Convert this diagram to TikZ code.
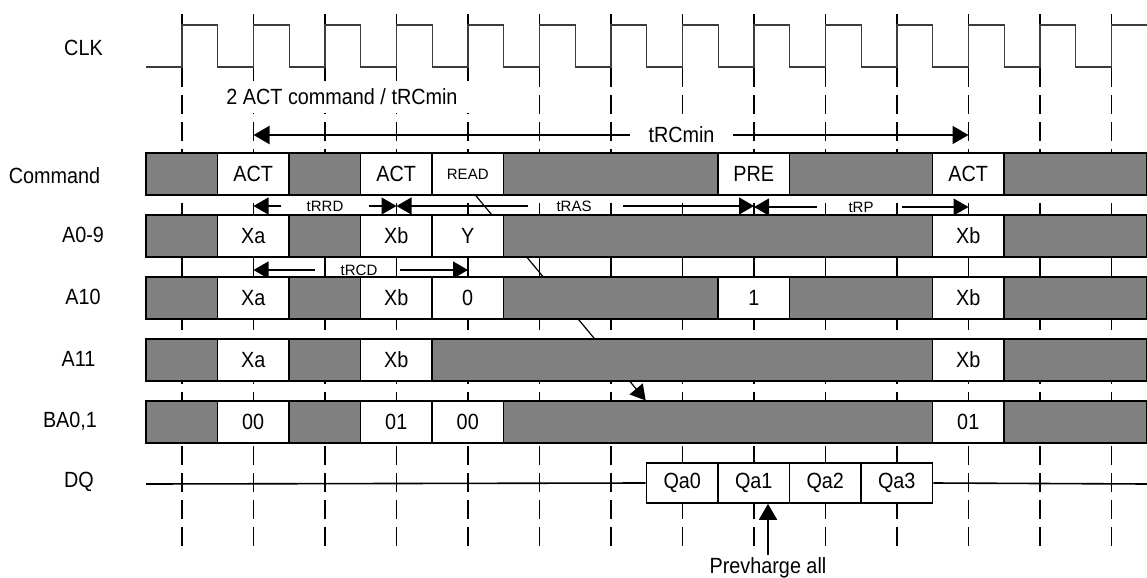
\documentclass[tikz,border=0pt]{standalone}
\usepackage{fontspec}
\setmainfont[FakeStretch=0.9]{Liberation Sans}
\newfontfamily\TimFam{Liberation Sans}
\usepackage{tikz}
\usetikzlibrary{arrows.meta}
\usetikzlibrary{backgrounds}
\usepackage{xcolor}
\definecolor{ColFill}{RGB}{128,128,128}
\definecolor{ColClk}{RGB}{60,60,60}
\newcommand{\MainTxt}{\fontsize{11pt}{13pt}\selectfont}
\newcommand{\SmallTim}{\TimFam\fontsize{7.5pt}{9pt}\selectfont}
\tikzstyle{EdgeClk}=[black,line width=0.9pt,dash pattern=on 9.75pt off 3.75pt]
\tikzstyle{LineClk}=[ColClk,line width=0.6pt]
\tikzstyle{CellSig}=[draw=black,line width=0.8pt,inner sep=0pt,minimum height=20.75pt]
\tikzstyle{NameSig}=[inner sep=0pt]
\tikzstyle{LabelTim}=[fill=white,inner xsep=1pt,inner ysep=4pt,font=\SmallTim]
\tikzstyle{ArrowTim}=[line width=0.6pt,-{Triangle[length=7.5pt,width=8.5pt]}]
\tikzstyle{ArrowBig}=[line width=1pt,-{Triangle[length=8pt,width=9pt]}]

\begin{document}
\begin{tikzpicture}[x=0.5pt,y=-0.5pt,font=\MainTxt]
    \useasboundingbox (0,0) rectangle (1147,578);
    % clock edges
    \foreach \i in {0,...,13}{
        \coordinate (e\i) at ({182+71.5*\i},0);
        \draw[EdgeClk] ({182+71.5*\i},546) -- ({182+71.5*\i},10);
    }
    \draw[LineClk] (146,67) \foreach \i in {0,...,12}{
        -- ({182+71.5*\i},67) -- ++(0,-42) -- ++(35.75,0) -- ++(0,42)}
        -- (1111.5,67) -- (1111.5,25) -- (1147,25);
    % signal names
    \node[NameSig](nClk)at(83.5,48){CLK};
    \node[NameSig](nCmd)at(54.5,176){Command};
    \node[NameSig](nAdr)at(83,235){A0-9};
    \node[NameSig](nAten)at(83,297){A10};
    \node[NameSig](nAelv)at(78.5,359){A11};
    \node[NameSig](nBa)at(70,421){BA0,1};
    \node[NameSig](nDq)at(79,482){DQ};
    \node[NameSig,fill=white,inner xsep=6pt,inner ysep=4pt](nTitle)at(342,97){2 ACT command / tRCmin};
    % tRCmin
    \node[LabelTim,font=\MainTxt,minimum width=51.5pt,minimum height=17.5pt](tRc)at(681.5,135){tRCmin};
    \draw[ArrowBig](tRc.west)--(e1 |- tRc.west);
    \draw[ArrowBig](tRc.east)--(e11 |- tRc.east);
    % timing between rows
    \node[LabelTim](tRrd)at(325,206){tRRD};
    \draw[ArrowTim,shorten <=11.5pt](tRrd.west)--(e1 |- tRrd.west);
    \draw[ArrowTim,shorten <=11.5pt](tRrd.east)--(e3 |- tRrd.east);
    \node[LabelTim](tRas)at(574,206){tRAS};
    \draw[ArrowTim,shorten <=12.8pt](tRas.west)--(e3 |- tRas.west);
    \draw[ArrowTim,shorten <=14.6pt](tRas.east)--(e8 |- tRas.east);
    \node[LabelTim](tRp)at(861,207){tRP};
    \draw[ArrowTim,shorten <=14.8pt](tRp.west)--(e8 |- tRp.west);
    \draw[ArrowTim,shorten <=13.2pt](tRp.east)--(e11 |- tRp.east);
    \node[LabelTim](tRcd)at(359,270){tRCD};
    \draw[ArrowTim,shorten <=11.8pt](tRcd.west)--(e1 |- tRcd.west);
    \draw[ArrowTim,shorten <=10.3pt](tRcd.east)--(e4 |- tRcd.east);
    % rows
    \foreach \r/\yy/\cells in {
        cmd/174/{0/1/ColFill/{},1/2/white/ACT,2/3/ColFill/{},3/4/white/ACT,4/5/white/{\SmallTim READ},5/8/ColFill/{},8/9/white/PRE,9/11/ColFill/{},11/12/white/ACT,12/14/ColFill/{}},
        adr/236/{0/1/ColFill/{},1/2/white/Xa,2/3/ColFill/{},3/4/white/Xb,4/5/white/Y,5/11/ColFill/{},11/12/white/Xb,12/14/ColFill/{}},
        aten/298/{0/1/ColFill/{},1/2/white/Xa,2/3/ColFill/{},3/4/white/Xb,4/5/white/0,5/8/ColFill/{},8/9/white/1,9/11/ColFill/{},11/12/white/Xb,12/14/ColFill/{}},
        aelv/360/{0/1/ColFill/{},1/2/white/Xa,2/3/ColFill/{},3/4/white/Xb,4/11/ColFill/{},11/12/white/Xb,12/14/ColFill/{}},
        ba/422/{0/1/ColFill/{},1/2/white/00,2/3/ColFill/{},3/4/white/01,4/5/white/00,5/11/ColFill/{},11/12/white/01,12/14/ColFill/{}}}{
        \foreach \a/\b/\f/\t [count=\k] in \cells{
            \pgfmathsetmacro\w{(\b-\a)*35.75}
            \node[CellSig,fill=\f,minimum width=\w pt](\r\k)at({146+35.75*(\a+\b)},\yy){\t};
        }
    }
    % DQ
    \coordinate(dqL)at(146,484);
    \coordinate(dqR)at(1147,484);
    \foreach \t [count=\k from 0] in {Qa0,Qa1,Qa2,Qa3}
        \node[CellSig,fill=white,minimum width=35.75pt,minimum height=20pt](q\k)at({682.25+71.5*\k},483){\t};
    \draw[line width=0.8pt](dqL)--(q0.west);
    \draw[line width=0.8pt](q3.east)--(dqR);
    \node[inner sep=1pt,anchor=north](nPre)at(768,555){Prevharge all};
    \draw[ArrowBig](nPre.north)--(nPre.north |- q1.south);
    \begin{scope}[on background layer]
        \draw[ArrowTim](cmd5.south)++(4pt,0)--(q0.west |- ba6.north);
    \end{scope}
\end{tikzpicture}
\end{document}
